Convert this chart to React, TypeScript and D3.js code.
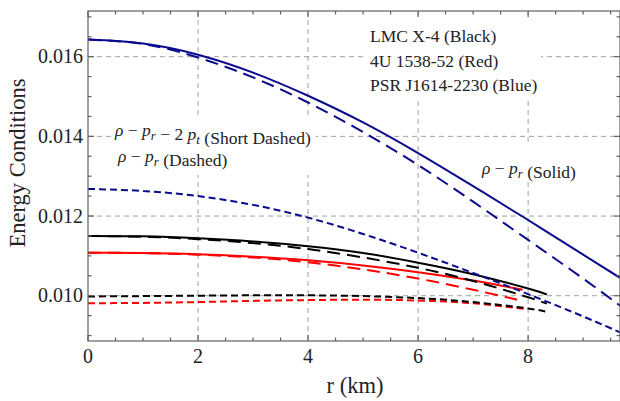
import React from 'react';
import * as d3 from 'd3';

// radius samples (km)
const rBlue = [0, 1, 2, 3, 4, 5, 6, 7, 8, 9, 9.67];
const rBlack = [0, 1, 2, 3, 4, 5, 6, 7, 8, 8.34];
const rRed = [0, 1, 2, 3, 4, 5, 6, 7, 7.9];
const rRedDashed = [0, 1, 2, 3, 4, 5, 6, 7, 7.8];
const rRedShort = [0, 1, 2, 3, 4, 5, 6, 7, 7.98];

// PSR J1614-2230 (blue)
const blueSolid = [0.01643, 0.01633, 0.01605, 0.0156, 0.01502, 0.01435, 0.01358, 0.01275, 0.0119, 0.01103, 0.01045];
const blueDashed = [0.01643, 0.01632, 0.01598, 0.01548, 0.01485, 0.01411, 0.01328, 0.01236, 0.0114, 0.01043, 0.00975];
const blueShort = [0.01268, 0.01263, 0.0125, 0.01228, 0.01196, 0.01155, 0.01108, 0.01057, 0.01004, 0.00948, 0.00908];

// LMC X-4 (black)
const blackSolid = [0.0115, 0.01149, 0.01144, 0.01136, 0.01124, 0.01107, 0.01083, 0.01054, 0.01018, 0.01003];
const blackDashed = [0.0115, 0.01148, 0.01142, 0.01132, 0.01117, 0.01096, 0.0107, 0.01037, 0.00996, 0.0098];
const blackShort = [0.00998, 0.00999, 0.01, 0.01001, 0.01001, 0.00999, 0.00994, 0.00984, 0.00968, 0.00959];

// 4U 1538-52 (red)
const redSolid = [0.01108, 0.01107, 0.01104, 0.01098, 0.01089, 0.01076, 0.01059, 0.01038, 0.01015];
const redDashed = [0.01108, 0.01107, 0.01103, 0.01096, 0.01084, 0.01066, 0.01043, 0.01015, 0.0099];
const redShort = [0.00981, 0.00982, 0.00984, 0.00987, 0.00989, 0.0099, 0.00988, 0.00981, 0.00966];

const xTicks = [0, 2, 4, 6, 8];
const yTicks = [0.01, 0.012, 0.014, 0.016];
const legendLines = ['LMC X-4 (Black)', '4U 1538-52 (Red)', 'PSR J1614-2230 (Blue)'];

const W = 620;
const H = 401;
const m = { left: 88, right: 620, top: 11, bottom: 341 };
const BLUE = '#0a0a8c';
const GRID = '#a0a0a0';
const FRAME = '#606060';
const FONT = 'Liberation Serif, Times New Roman, serif';
const LONG = '13,7';
const SHORT = '7,4';

export default function App() {
  const x = d3.scaleLinear().domain([0, 9.67]).range([m.left, m.right]);
  const y = d3.scaleLinear().domain([0.008863, 0.017147]).range([m.bottom, m.top]);

  const line = (rs: number[], vs: number[]) =>
    d3.line<number>()
      .x((_, i) => x(rs[i]))
      .y(d => y(d))
      .curve(d3.curveNatural)(vs) || '';

  const series = [
    { r: rRed, v: redSolid, c: 'red', dash: undefined },
    { r: rRedDashed, v: redDashed, c: 'red', dash: LONG },
    { r: rRedShort, v: redShort, c: 'red', dash: SHORT },
    { r: rBlack, v: blackSolid, c: 'black', dash: undefined },
    { r: rBlack, v: blackDashed, c: 'black', dash: LONG },
    { r: rBlack, v: blackShort, c: 'black', dash: SHORT },
    { r: rBlue, v: blueSolid, c: BLUE, dash: undefined },
    { r: rBlue, v: blueDashed, c: BLUE, dash: LONG },
    { r: rBlue, v: blueShort, c: BLUE, dash: SHORT },
  ];

  const xMinor = d3.range(0, 9.7, 0.5);
  const yMinor = d3.range(0.009, 0.01715, 0.0005);

  const sub = (s: string) => (
    <>
      <tspan fontStyle="italic" fontSize={13} dy={4}>{s}</tspan>
      <tspan dy={-4}></tspan>
    </>
  );

  return (
    <svg width={W} height={H} style={{ position: 'absolute', left: 0, top: 0, fontFamily: FONT }}>
      <defs>
        <clipPath id="plot">
          <rect x={m.left} y={m.top} width={m.right - m.left} height={m.bottom - m.top} />
        </clipPath>
      </defs>
      <rect width={W} height={H} fill="white" />

      {/* grid */}
      <g stroke={GRID} strokeWidth={1} strokeDasharray="5,4">
        {xTicks.filter(t => t > 0).map(t => (
          <line key={'gx' + t} x1={x(t)} x2={x(t)} y1={m.top} y2={m.bottom} />
        ))}
        {yTicks.map(t => (
          <line key={'gy' + t} x1={m.left} x2={m.right} y1={y(t)} y2={y(t)} />
        ))}
      </g>

      {/* white label backgrounds */}
      <g fill="white">
        <rect x={364} y={15} width={177} height={82} />
        <rect x={112} y={119} width={204} height={56} />
        <rect x={478} y={142} width={104} height={38} />
      </g>

      {/* curves */}
      <g clipPath="url(#plot)" fill="none" strokeWidth={2}>
        {series.map((s, i) => (
          <path key={i} d={line(s.r, s.v)} stroke={s.c} strokeDasharray={s.dash} />
        ))}
      </g>

      {/* frame and ticks */}
      <g stroke={FRAME} strokeWidth={1.2} fill="none">
        <rect x={m.left} y={m.top} width={m.right - m.left} height={m.bottom - m.top} />
        {xMinor.map(t => {
          const len = xTicks.includes(t) ? 6 : 3.5;
          return (
            <g key={'tx' + t}>
              <line x1={x(t)} x2={x(t)} y1={m.bottom} y2={m.bottom - len} />
              <line x1={x(t)} x2={x(t)} y1={m.top} y2={m.top + len} />
            </g>
          );
        })}
        {yMinor.map(t => {
          const major = yTicks.some(k => Math.abs(k - t) < 1e-7);
          const len = major ? 6 : 3.5;
          return (
            <g key={'ty' + t}>
              <line x1={m.left} x2={m.left + len} y1={y(t)} y2={y(t)} />
              <line x1={m.right} x2={m.right - len} y1={y(t)} y2={y(t)} />
            </g>
          );
        })}
      </g>

      {/* tick labels */}
      <g fontSize={20} fill="#222">
        {xTicks.map(t => (
          <text key={'lx' + t} x={x(t)} y={363} textAnchor="middle">{t}</text>
        ))}
        {yTicks.map(t => (
          <text key={'ly' + t} x={83} y={y(t) + 6.5} textAnchor="end">{d3.format('.3f')(t)}</text>
        ))}
      </g>

      {/* axis titles */}
      <text x={355} y={393} fontSize={22.5} textAnchor="middle" fill="#222">r (km)</text>
      <text transform="translate(25,163) rotate(-90)" fontSize={22.5} textAnchor="middle" fill="#222">Energy Conditions</text>

      {/* annotations */}
      <g fontSize={17.5} fill="#222">
        {legendLines.map((s, i) => (
          <text key={s} x={370} y={42 + i * 24.5}>{s}</text>
        ))}
        <text x={115} y={136}>
          <tspan fontStyle="italic">ρ</tspan> − <tspan fontStyle="italic">p</tspan>{sub('r')} − 2 <tspan fontStyle="italic">p</tspan>{sub('t')} (Short Dashed)
        </text>
        <text x={118} y={162}>
          <tspan fontStyle="italic">ρ</tspan> − <tspan fontStyle="italic">p</tspan>{sub('r')} (Dashed)
        </text>
        <text x={482} y={174}>
          <tspan fontStyle="italic">ρ</tspan> − <tspan fontStyle="italic">p</tspan>{sub('r')} (Solid)
        </text>
      </g>
    </svg>
  );
}
